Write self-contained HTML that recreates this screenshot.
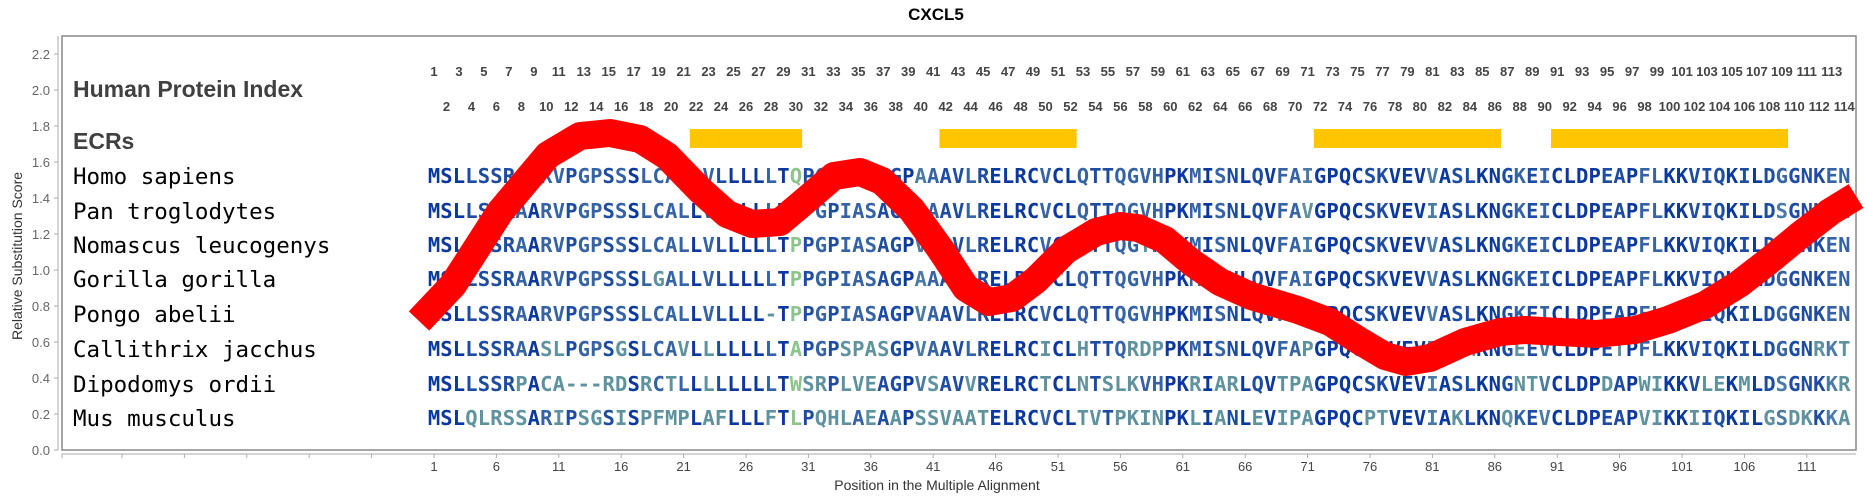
<!DOCTYPE html>
<html><head><meta charset="utf-8"><style>
html,body{margin:0;padding:0;background:#fff;}
svg{display:block;}
</style></head><body>
<svg id="s" width="1868" height="500" xmlns="http://www.w3.org/2000/svg" font-family="Liberation Sans, sans-serif">
<rect width="1868" height="500" fill="#fff"/>
<text x="936" y="20" text-anchor="middle" font-size="17" font-weight="bold" fill="#000">CXCL5</text>
<text transform="translate(22,256) rotate(-90)" text-anchor="middle" font-size="14" fill="#333">Relative Substitution Score</text>
<text x="937" y="490" text-anchor="middle" font-size="14" fill="#333">Position in the Multiple Alignment</text>
<rect x="62" y="36" width="1794" height="414" fill="#fff" stroke="#888" stroke-width="1.5"/>
<line x1="58" y1="36" x2="58" y2="450" stroke="#aaa" stroke-width="1"/>
<line x1="62" y1="454" x2="1856" y2="454" stroke="#aaa" stroke-width="1"/>
<g id="yt" font-size="13" fill="#666" text-anchor="end"></g>
<g id="xt" font-size="13" fill="#444" text-anchor="middle"></g>
<text x="73" y="97" font-size="23" font-weight="bold" fill="#404040">Human Protein Index</text>
<text x="73" y="149" font-size="23" font-weight="bold" fill="#404040">ECRs</text>
<g id="nums" font-size="13" font-weight="bold" fill="#444" text-anchor="middle"></g>
<g id="ecr" fill="#FFC600"></g>
<g id="names" font-family="DejaVu Sans Mono, monospace" font-size="22.5" fill="#000"></g>
<g id="seqs" font-family="DejaVu Sans Mono, monospace" font-size="20.5" font-weight="bold"></g>
<polyline fill="none" stroke="#ff0000" stroke-width="28" stroke-linejoin="round" stroke-linecap="butt"
points="419,321 453,285 500,212 548,155 580,136 610,133 640,139 667,156 700,190 727,214 752,224 780,222 806,200 834,176 860,172 882,181 912,210 941,250 966,288 989,302 1012,298 1036,280 1066,250 1096,232 1120,226 1138,228 1165,240 1191,262 1220,282 1251,296 1298,310 1330,322 1358,340 1385,356 1406,362 1430,358 1465,342 1500,332 1525,330 1560,332 1596,334 1635,330 1668,320 1705,305 1739,284 1770,260 1799,236 1830,212 1856,196"/>
</svg>
<script>
var NS="http://www.w3.org/2000/svg";
function el(p,t,a,txt){var e=document.createElementNS(NS,t);for(var k in a)e.setAttribute(k,a[k]);if(txt!==undefined)e.textContent=txt;document.getElementById(p).appendChild(e);return e;}
function X(p){return 434+(p-1)*12.48;}
for(var i=0;i<=11;i++){var v=i*0.2,y=450-i*36;el("yt","text",{x:50,y:y+5},v.toFixed(1));el("yt","line",{x1:54,y1:y,x2:58,y2:y,stroke:"#aaa"});}
for(var p=-29;p<=114;p+=5){var x=X(p);if(x<60)continue;el("xt","line",{x1:x,y1:454,x2:x,y2:458,stroke:"#aaa"});if(p>=1)el("xt","text",{x:x,y:471},p);}
el("xt","line",{x1:62,y1:454,x2:62,y2:458,stroke:"#aaa"});
for(var p=1;p<=114;p++){el("nums","text",{x:X(p),y:(p%2?76:111)},p);}
[[22,30],[42,52],[72,86],[91,109]].forEach(function(b){el("ecr","rect",{x:X(b[0])-6.2,y:129,width:X(b[1])-X(b[0])+12.4,height:19});});
var names=["Homo sapiens","Pan troglodytes","Nomascus leucogenys","Gorilla gorilla","Pongo abelii","Callithrix jacchus","Dipodomys ordii","Mus musculus"];
var seqs=[
"MSLLSSRAARVPGPSSSLCALLVLLLLLTQPGPIASAGPAAAVLRELRCVCLQTTQGVHPKMISNLQVFAIGPQCSKVEVVASLKNGKEICLDPEAPFLKKVIQKILDGGNKEN",
"MSLLSSRAARVPGPSSSLCALLVLLLLLTQPGPIASAGPAAAVLRELRCVCLQTTQGVHPKMISNLQVFAVGPQCSKVEVIASLKNGKEICLDPEAPFLKKVIQKILDSGNKEN",
"MSLLSSRAARVPGPSSSLCALLVLLLLLTPPGPIASAGPVPAVLRELRCVCLQTTQGTHPKMISNLQVFAIGPQCSKVEVVASLKNGKEICLDPEAPFLKKVIQKILDGGNKEN",
"MSLLSSRAARVPGPSSSLGALLVLLLLLTPPGPIASAGPAAAVLRELRCVCLQTTQGVHPKMISNLQVFAIGPQCSKVEVVASLKNGKEICLDPEAPFLKKVIQKILDGGNKEN",
"MSLLSSRAARVPGPSSSLCALLVLLLL-TPPGPIASAGPVAAVLRELRCVCLQTTQGVHPKMISNLQVFAIGPQCSKVEVVASLKNGKEICLDPEAPFLKKVIQKILDGGNKEN",
"MSLLSSRAASLPGPSGSLCAVLLLLLLLTAPGPSPASGPVAAVLRELRCICLHTTQRDPPKMISNLQVFAPGPQCSKVEVIASMKNGEEVCLDPETPFLKKVIQKILDGGNRKT",
"MSLLSSRPACA---RDSRCTLLLLLLLLTWSRPLVEAGPVSAVVRELRCTCLNTSLKVHPKRIARLQVTPAGPQCSKVEVIASLKNGNTVCLDPDAPWIKKVLEKMLDSGNKKR",
"MSLQLRSSARIPSGSISPFMPLAFLLLFTLPQHLAEAAPSSVAATELRCVCLTVTPKINPKLIANLEVIPAGPQCPTVEVIAKLKNQKEVCLDPEAPVIKKIIQKILGSDKKKA"];
var rowY=[176,211,245,279,314,349,384,418];
for(var r=0;r<8;r++){
 el("names","text",{x:73,y:rowY[r]+8},names[r]);
 var s=seqs[r];
 for(var c=0;c<s.length;c++){
  var ch=s[c],cnt=0;for(var k=0;k<8;k++)if(seqs[k][c]===ch)cnt++;
  var col=cnt>=8?"#0A389E":cnt>=7?"#1E4CA3":cnt>=5?"#3563A6":cnt>=3?"#4A7AA8":"#5E929E";
  if(c===29)col="#8CC48C";
  el("seqs","text",{x:X(c+1),y:rowY[r]+7,"text-anchor":"middle",fill:col},ch);
 }
}
</script>
</body></html>
